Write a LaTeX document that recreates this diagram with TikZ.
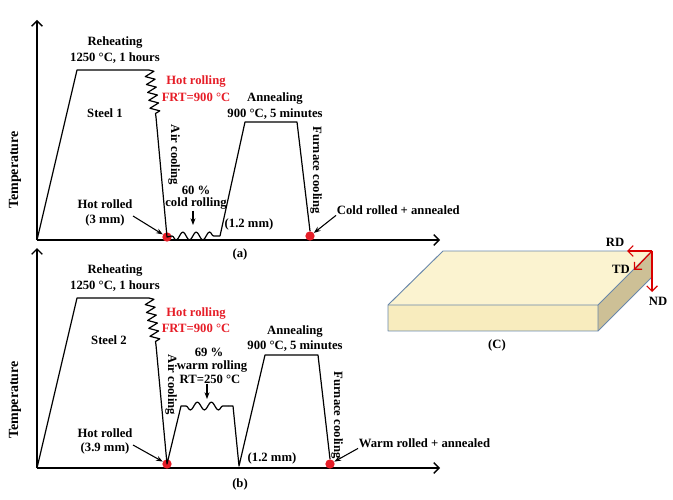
\documentclass[tikz,border=0pt]{standalone}
\usepackage{fontspec}
\setmainfont{Liberation Serif}
\usetikzlibrary{decorations.pathmorphing,arrows.meta}
\begin{document}
\begin{tikzpicture}[x=0.75pt,y=-0.75pt,
  t/.style={font=\fontsize{9.5}{11}\selectfont\bfseries,inner sep=0.5pt},
  red/.style={t,text={rgb,255:red,230;green,30;blue,40}},
  ax/.style={line width=1pt,-{Straight Barb[length=4pt]}},
  cur/.style={line width=0.9pt,line join=round},
  zz/.style={decorate,decoration={zigzag,amplitude=3.5pt,segment length=6pt}},
  ar/.style={line width=0.8pt,-{Stealth[length=5pt]}},
  dot/.style={circle,fill={rgb,255:red,230;green,30;blue,40},inner sep=0,minimum size=7pt}]
\useasboundingbox (0,0) rectangle (673,499);
% ---------- (a)
\coordinate (ao) at (37,240);
\coordinate (ay) at (37,20);
\coordinate (ax) at (440,240);
\draw[ax] (ao) -- (ay);
\draw[ax] (ao) -- (ax);
\coordinate (a1) at (77,70); \coordinate (a2) at (149,70);
\coordinate (a3) at (156,117);
\node[dot] (ad1) at (167,237) {};
\coordinate (a4) at (172,236); \coordinate (a5) at (220,236);
\coordinate (a6) at (245,122); \coordinate (a7) at (297,122);
\node[dot] (ad2) at (310,236) {};
\draw[cur] (ao) -- (a1) -- (a2);
\draw[cur,zz] (a2) -- (a3);
\draw[cur] (a3) -- (ad1.center) -- (a4);
\draw[cur,decorate,decoration={snake,amplitude=3pt,segment length=10pt,mirror}] (a4) -- (a5);
\draw[cur] (a5) -- (a6) -- (a7) -- (ad2.north);
\node[t] (ar1) at (115,43) {Reheating};
\node[t] (ar2) at (115,58) {1250 °C, 1 hours};
\node[red] (ah1) at (196,82) {Hot rolling};
\node[red] (ah2) at (196,97) {FRT=900 °C};
\node[t] (as) at (105,113) {Steel 1};
\node[t,rotate=-90] (aac) at (174,155) {Air cooling};
\node[t] (aan1) at (275,99) {Annealing};
\node[t] (aan2) at (275,114) {900 °C, 5 minutes};
\node[t,rotate=-90] (afc) at (316,170) {Furnace cooling};
\node[t] (ac1) at (196,190) {60 \%};
\node[t] (ac2) at (196,204) {cold rolling};
\coordinate (acr) at (193,225);
\draw[ar] (ac2.south -| acr) -- (acr);
\node[t] (ahr1) at (105,204) {Hot rolled};
\node[t] (ahr2) at (105,220) {(3 mm)};
\draw[ar] (133,216) -- (ad1);
\node[t] (amm) at (249,224) {(1.2 mm)};
\node[t,anchor=west] (acra) at (336,210) {Cold rolled + annealed};
\draw[ar] (acra.south west) -- (ad2);
\node[t] (alab) at (240,254) {(a)};
\node[t,rotate=90,font=\fontsize{10.5}{12}\selectfont\bfseries] (temp1) at (15,170) {Temperature};
% ---------- (b)
\coordinate (bo) at (37,468);
\coordinate (by) at (37,248);
\coordinate (bx) at (440,468);
\draw[ax] (bo) -- (by);
\draw[ax] (bo) -- (bx);
\coordinate (b1) at (77,298); \coordinate (b2) at (149,298);
\coordinate (b3) at (156,345);
\node[dot] (bd1) at (167,464) {};
\coordinate (b4) at (181,406); \coordinate (b5) at (186,406);
\coordinate (b6) at (228,406); \coordinate (b7) at (233,406);
\coordinate (b8) at (239,466);
\coordinate (b9) at (265,355); \coordinate (b10) at (318,355);
\node[dot] (bd2) at (330,464) {};
\draw[cur] (bo) -- (b1) -- (b2);
\draw[cur,zz] (b2) -- (b3);
\draw[cur] (b3) -- (bd1.center) -- (b4) -- (b5);
\draw[cur,decorate,decoration={snake,amplitude=3pt,segment length=10.5pt,mirror}] (b5) -- (b6);
\draw[cur] (b6) -- (b7) -- (b8) -- (b9) -- (b10) -- (bd2.north);
\node[t] (br1) at (115,271) {Reheating};
\node[t] (br2) at (115,286) {1250 °C, 1 hours};
\node[red] (bh1) at (196,313) {Hot rolling};
\node[red] (bh2) at (196,328) {FRT=900 °C};
\node[t] (bs) at (109,340) {Steel 2};
\node[t,rotate=-90] (bac) at (171,385) {Air cooling};
\node[t] (bw1) at (209,352) {69 \%};
\node[t] (bw2) at (212,366) {warm rolling};
\node[t] (bw3) at (210,379) {RT=250 °C};
\coordinate (bwr) at (207,399);
\draw[ar] (bw3.south -| bwr) -- (bwr);
\node[t] (ban1) at (295,331) {Annealing};
\node[t] (ban2) at (295,346) {900 °C, 5 minutes};
\node[t,rotate=-90] (bfc) at (337,415) {Furnace cooling};
\node[t] (bhr1) at (105,433) {Hot rolled};
\node[t] (bhr2) at (105,448) {(3.9 mm)};
\draw[ar] (133,445) -- (bd1);
\node[t] (bmm) at (272,458) {(1.2 mm)};
\node[t,anchor=west] (bwra) at (358,443) {Warm rolled + annealed};
\draw[ar] (bwra.south west) -- (bd2);
\node[t] (blab) at (240,484) {(b)};
\node[t,rotate=90,font=\fontsize{10.5}{12}\selectfont\bfseries] (temp2) at (15,400) {Temperature};
% ---------- (C) slab
\definecolor{edge}{RGB}{105,135,170}
\fill[fill={rgb,255:red,251;green,243;blue,208}] (388,305) -- (443,251) -- (652,251) -- (598,305) -- cycle;
\fill[fill={rgb,255:red,248;green,236;blue,190}] (388,305) rectangle (598,331);
\fill[fill={rgb,255:red,205;green,192;blue,150}] (598,305) -- (652,251) -- (652,277) -- (598,331) -- cycle;
\draw[edge,line width=0.7pt,line join=round] (388,305) -- (443,251) -- (652,251) -- (652,277) -- (598,331) -- (388,331) -- cycle;
\draw[edge,line width=0.7pt] (388,305) -- (598,305) -- (652,251) (598,305) -- (598,331);
\coordinate (org) at (652,251);
\node[t] (rd) at (615,242) {RD};
\node[t] (td) at (621,269) {TD};
\node[t] (nd) at (658,301) {ND};
\draw[line width=0.9pt,red!85!black,-{Straight Barb[length=4pt]}] (org) -- (627,251);
\draw[line width=0.9pt,red!85!black,-{Straight Barb[length=4pt]}] (org) -- (634,270);
\draw[line width=0.9pt,red!85!black,-{Straight Barb[length=4pt]}] (org) -- (652,292);
\node[t] (clab) at (497,345) {(C)};
\end{tikzpicture}
\end{document}
